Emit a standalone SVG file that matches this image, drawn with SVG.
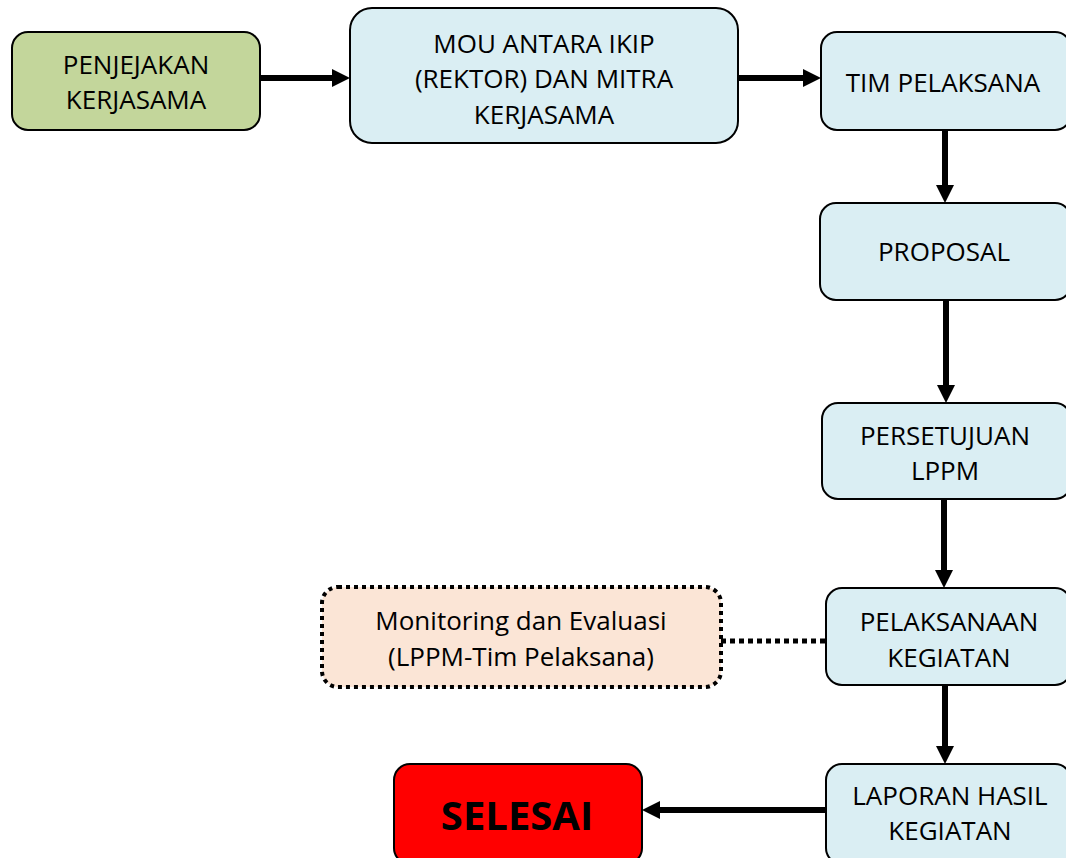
<svg xmlns="http://www.w3.org/2000/svg" width="1066" height="858" viewBox="0 0 1066 858">
<style>
.box{stroke:#000;stroke-width:2}
.blue{fill:#DAEEF3}
.t{font-family:"Open Sans","Liberation Sans",sans-serif;font-size:26px;fill:#000;text-anchor:middle}
.c{stroke:#000;stroke-width:6;fill:none}
</style>
<defs>
<marker id="ah" viewBox="0 0 18 18" refX="8" refY="9" markerWidth="18" markerHeight="18" markerUnits="userSpaceOnUse" orient="auto">
<path d="M0,0 L18,9 L0,18 z" fill="#000"/>
</marker>
</defs>
<rect width="1066" height="858" fill="#fff"/>
<g id="connectors">
<line class="c" x1="260" y1="78" x2="340" y2="78" marker-end="url(#ah)"/>
<line class="c" x1="738" y1="78" x2="811" y2="78" marker-end="url(#ah)"/>
<line class="c" x1="945" y1="130" x2="945" y2="193" marker-end="url(#ah)"/>
<line class="c" x1="946" y1="300" x2="946" y2="393" marker-end="url(#ah)"/>
<line class="c" x1="944" y1="499" x2="944" y2="578" marker-end="url(#ah)"/>
<line class="c" x1="945" y1="685" x2="945" y2="754" marker-end="url(#ah)"/>
<line class="c" x1="826" y1="810" x2="652" y2="810" marker-end="url(#ah)"/>
<line x1="721" y1="641" x2="826" y2="641" stroke="#000" stroke-width="5" stroke-dasharray="5,4"/>
</g>
<g id="n-penjejakan">
<rect class="box" x="12" y="32" width="248" height="98" rx="16" fill="#C3D69B"/>
<text class="t" x="136" y="74">PENJEJAKAN</text>
<text class="t" x="136" y="109">KERJASAMA</text>
</g>
<g id="n-mou">
<rect class="box blue" x="350" y="8" width="388" height="135" rx="22"/>
<text class="t" x="544" y="53">MOU ANTARA IKIP</text>
<text class="t" x="544" y="88">(REKTOR) DAN MITRA</text>
<text class="t" x="544" y="124">KERJASAMA</text>
</g>
<g id="n-tim">
<rect class="box blue" x="821" y="32" width="250" height="98" rx="16"/>
<text class="t" x="943" y="92">TIM PELAKSANA</text>
</g>
<g id="n-proposal">
<rect class="box blue" x="820" y="203" width="251" height="97" rx="16"/>
<text class="t" x="944" y="261">PROPOSAL</text>
</g>
<g id="n-persetujuan">
<rect class="box blue" x="822" y="403" width="249" height="96" rx="16"/>
<text class="t" x="945" y="445">PERSETUJUAN</text>
<text class="t" x="945" y="480">LPPM</text>
</g>
<g id="n-pelaksanaan">
<rect class="box blue" x="826" y="588" width="245" height="97" rx="16"/>
<text class="t" x="949" y="631">PELAKSANAAN</text>
<text class="t" x="949" y="667">KEGIATAN</text>
</g>
<g id="n-monitoring">
<rect x="322" y="587" width="399" height="100" rx="16" fill="#FBE5D6" stroke="#000" stroke-width="4" stroke-dasharray="4,4"/>
<text class="t" x="521" y="630">Monitoring dan Evaluasi</text>
<text class="t" x="521" y="666">(LPPM-Tim Pelaksana)</text>
</g>
<g id="n-laporan">
<rect class="box" x="826" y="764" width="245" height="100" rx="16" fill="#DAEEF3"/>
<text class="t" x="950" y="805">LAPORAN HASIL</text>
<text class="t" x="950" y="840">KEGIATAN</text>
</g>
<g id="n-selesai">
<rect class="box" x="394" y="764" width="248" height="100" rx="16" fill="#FF0000"/>
<text class="t" x="517" y="830" style="font-size:40px;font-weight:bold">SELESAI</text>
</g>
</svg>
